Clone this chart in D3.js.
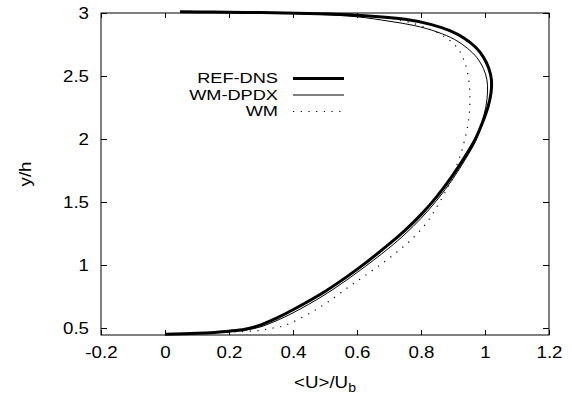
<!DOCTYPE html>
<html><head><meta charset="utf-8">
<script src="https://cdn.jsdelivr.net/npm/d3@7"></script>
<style>body{margin:0;background:#fff}svg{display:block}text{font-family:"Liberation Sans",Arial,sans-serif;fill:#000}</style>
</head><body>
<svg id="c" width="572" height="394"></svg>
<script>
const xTicks = [-0.2, 0, 0.2, 0.4, 0.6, 0.8, 1, 1.2];
const xTickLabels = ["-0.2", "0", "0.2", "0.4", "0.6", "0.8", "1", "1.2"];
const yTicks = [0.5, 1, 1.5, 2, 2.5, 3];
const yTickLabels = ["0.5", "1", "1.5", "2", "2.5", "3"];
const seriesNames = ["REF-DNS", "WM-DPDX", "WM"];

const refU = [0, 0.1, 0.2, 0.25, 0.3, 0.35, 0.4, 0.5, 0.6, 0.7, 0.75, 0.8, 0.85, 0.9, 0.94, 0.97, 0.995, 1.01, 1.019, 1.02, 1.012, 0.995, 0.97, 0.935, 0.89, 0.83, 0.75, 0.6, 0.45, 0.3, 0.15, 0.047];
const refY = [0.45, 0.458, 0.475, 0.49, 0.525, 0.58, 0.645, 0.79, 0.965, 1.165, 1.275, 1.40, 1.545, 1.715, 1.87, 2.0, 2.15, 2.26, 2.37, 2.47, 2.56, 2.65, 2.73, 2.8, 2.86, 2.91, 2.95, 2.983, 2.996, 3.003, 3.007, 3.01];

const dpdxU = [0, 0.1, 0.2, 0.25, 0.3, 0.35, 0.4, 0.5, 0.6, 0.7, 0.75, 0.8, 0.85, 0.9, 0.94, 0.97, 0.99, 1.003, 1.008, 1.006, 0.995, 0.975, 0.945, 0.905, 0.85, 0.78, 0.7, 0.6, 0.45, 0.3, 0.15, 0.047];
const dpdxY = [0.45, 0.457, 0.47, 0.482, 0.51, 0.56, 0.62, 0.765, 0.94, 1.135, 1.245, 1.37, 1.515, 1.685, 1.845, 1.98, 2.13, 2.26, 2.38, 2.47, 2.56, 2.645, 2.72, 2.79, 2.85, 2.9, 2.935, 2.97, 2.992, 3.002, 3.007, 3.01];

const wmU = [0, 0.1, 0.2, 0.275, 0.306, 0.338, 0.369, 0.4, 0.459, 0.509, 0.569, 0.619, 0.672, 0.725, 0.775, 0.819, 0.853, 0.884, 0.91, 0.931, 0.947, 0.953, 0.948, 0.935, 0.915, 0.88, 0.828, 0.734, 0.6, 0.45, 0.3, 0.15, 0.047];
const wmY = [0.45, 0.458, 0.468, 0.476, 0.484, 0.5, 0.516, 0.548, 0.627, 0.706, 0.817, 0.905, 1.0, 1.103, 1.214, 1.34, 1.476, 1.62, 1.78, 1.94, 2.12, 2.31, 2.49, 2.62, 2.72, 2.8, 2.87, 2.944, 2.98, 2.995, 3.003, 3.007, 3.01];

const svg = d3.select("#c");
const L = 101, R = 549, T = 13, B = 335;
const x = d3.scaleLinear().domain([-0.2, 1.2]).range([L, R]);
const y = d3.scaleLinear().domain([0.4444, 3]).range([B, T]);
const fs = 16, SX = 1.17;

function widen(sel, sx) {
  sel.each(function () {
    const t = d3.select(this);
    const tx = +t.attr("x") || 0;
    const prev = t.attr("transform") || "";
    t.attr("transform", `${prev} translate(${tx},0) scale(${sx || SX},1) translate(${-tx},0)`);
  });
}

svg.append("rect").attr("x", L).attr("y", T).attr("width", R - L).attr("height", B - T)
  .attr("fill", "none").attr("stroke", "#000").attr("stroke-width", 1);

const gxb = svg.append("g").attr("transform", `translate(0,${B})`)
  .call(d3.axisBottom(x).tickValues(xTicks).tickSize(-5).tickPadding(12).tickFormat((d, i) => xTickLabels[i]));
const gxt = svg.append("g").attr("transform", `translate(0,${T})`)
  .call(d3.axisTop(x).tickValues(xTicks).tickSize(-5).tickFormat(""));
const gyl = svg.append("g").attr("transform", `translate(${L},0)`)
  .call(d3.axisLeft(y).tickValues(yTicks).tickSize(-6).tickPadding(12).tickFormat((d, i) => yTickLabels[i]));
const gyr = svg.append("g").attr("transform", `translate(${R},0)`)
  .call(d3.axisRight(y).tickValues(yTicks).tickSize(-6).tickFormat(""));
[gxb, gxt, gyl, gyr].forEach(g => {
  g.select(".domain").remove();
  g.selectAll("line").attr("stroke", "#000");
  g.selectAll("text").attr("font-size", fs).attr("font-family", "Liberation Sans, Arial, sans-serif").call(widen);
});

const xt = svg.append("text").attr("x", (L + R) / 2).attr("y", 388).attr("text-anchor", "middle").attr("font-size", fs);
xt.append("tspan").text("<U>/U");
xt.append("tspan").attr("font-size", 12).attr("dy", 4).text("b");
widen(xt);
svg.append("text").attr("transform", `translate(31,${(T + B) / 2}) rotate(-90) scale(${SX},1)`)
  .attr("text-anchor", "middle").attr("font-size", fs).text("y/h");

const line = d3.line().x(d => x(d[0])).y(d => y(d[1])).curve(d3.curveCatmullRom.alpha(0.5));
const series = [
  { name: seriesNames[0], pts: d3.zip(refU, refY), w: 3, dash: null },
  { name: seriesNames[1], pts: d3.zip(dpdxU, dpdxY), w: 1, dash: null },
  { name: seriesNames[2], pts: d3.zip(wmU, wmY), w: 1.2, dash: "1.2,6.5" }
];
series.slice().reverse().forEach(s => {
  svg.append("path").attr("d", line(s.pts)).attr("fill", "none").attr("stroke", "#000")
    .attr("stroke-width", s.w).attr("stroke-dasharray", s.dash);
});

series.forEach((s, i) => {
  const yy = 78.5 + i * 16.5;
  const t = svg.append("text").attr("x", 278).attr("y", yy).attr("dy", "0.35em").attr("text-anchor", "end")
    .attr("font-size", 14).text(s.name);
  widen(t, 1.3);
  svg.append("line").attr("x1", 293).attr("x2", 344).attr("y1", yy).attr("y2", yy)
    .attr("stroke", "#000").attr("stroke-width", s.w).attr("stroke-dasharray", s.dash);
});
</script>
</body></html>
